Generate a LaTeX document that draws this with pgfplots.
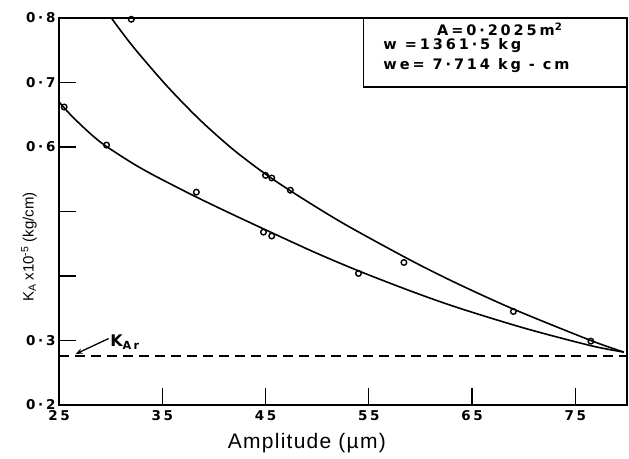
\documentclass[border=0pt]{standalone}
\usepackage{pgfplots}
\pgfplotsset{compat=1.18}
\usepackage{fontspec}
\setmainfont{Liberation Sans}
\newfontfamily\tk[LetterSpace=20]{DejaVu Sans}
\newfontfamily\ax[LetterSpace=6]{Liberation Sans}
\usetikzlibrary{arrows.meta}

\begin{document}
\begin{tikzpicture}
\useasboundingbox (-59pt,-53pt) rectangle (570pt,405pt);
\begin{axis}[
  at={(0,0)}, anchor=south west,
  width=568pt, height=387pt, scale only axis,
  xmin=25, xmax=80, ymin=0.2, ymax=0.8,
  xtick={25,35,45,55,65,75},
  xticklabels={25,35,45,55,65,75},
  ytick={0.2,0.3,0.4,0.5,0.6,0.7,0.8},
  yticklabels={0·2,0·3,,,0·6,0·7,0·8},
  xtick pos=bottom, ytick pos=left, tick align=inside,
  major tick length=17pt,
  tick style={line width=1.3pt, black},
  axis line style={line width=1.3pt},
  ticklabel style={font=\tk\bfseries\fontsize{13.5}{15}\selectfont},
  xticklabel style={yshift=-2pt},
  clip=false,
]
% fitted curves
\addplot[smooth, line width=1.6pt] coordinates {
  (30.07,0.800) (32.15,0.756) (35.37,0.696) (38.58,0.643) (41.8,0.597)
  (45.0,0.558) (48.2,0.524) (52.7,0.480) (59.1,0.424) (63.6,0.388)
  (69.1,0.348) (76.5,0.300) (79.7,0.282)
};
\addplot[smooth, line width=1.6pt] coordinates {
  (25.0,0.670) (26.0,0.652) (27.2,0.633) (28.3,0.617) (29.4,0.603)
  (32.0,0.576) (34.2,0.556) (38.1,0.524) (42.0,0.494) (46.3,0.462)
  (50.0,0.435) (54.0,0.408) (59.0,0.377) (63.6,0.351) (70.1,0.319)
  (76.5,0.292) (79.7,0.282)
};
% measured points
\addplot[only marks, mark=o, mark size=2.8pt, line width=1.4pt] coordinates {
  (25.5,0.662) (29.6,0.603) (38.3,0.530) (44.8,0.468) (45.6,0.462) (54.0,0.404)
};
\addplot[only marks, mark=o, mark size=2.8pt, line width=1.4pt] coordinates {
  (32.0,0.798) (45.0,0.556) (45.6,0.552) (47.4,0.533) (58.4,0.421) (69.0,0.345) (76.5,0.299)
};
% K_Ar
\addplot[line width=1.3pt, dash pattern=on 10pt off 6pt] coordinates {(25,0.276) (80,0.276)};
\draw[line width=1.3pt, -{Stealth[length=7pt]}] (axis cs:29.8,0.303) -- (axis cs:26.6,0.279);
\node[anchor=base west, inner sep=0pt, font=\tk\bfseries\fontsize{16}{18}\selectfont]
  at (axis cs:29.95,0.29) {K\textsubscript{Ar}};

% info box
\draw[line width=1.3pt] (axis cs:54.5,0.693) rectangle (axis cs:80,0.8);
\begin{scope}[every node/.style={inner sep=0pt, anchor=base west,
    font=\tk\bfseries\fontsize{14.5}{16}\selectfont}]
\node at (axis cs:61.6,0.773) {A=0·2025m\textsuperscript{2}};
\node at (axis cs:56.4,0.751) {w =1361·5 kg};
\node at (axis cs:56.4,0.720) {we= 7·714 kg - cm};
\end{scope}

% axis titles
\node[xshift=-30pt, rotate=90, font=\fontsize{15}{17}\selectfont] at (axis cs:25,0.445)
  {K\textsubscript{A} x10\textsuperscript{-5} (kg/cm)};
\node[yshift=-38pt, font=\ax\fontsize{21}{24}\selectfont] at (axis cs:49.0,0.2) {Amplitude (µm)};
\end{axis}
\end{tikzpicture}
\end{document}
